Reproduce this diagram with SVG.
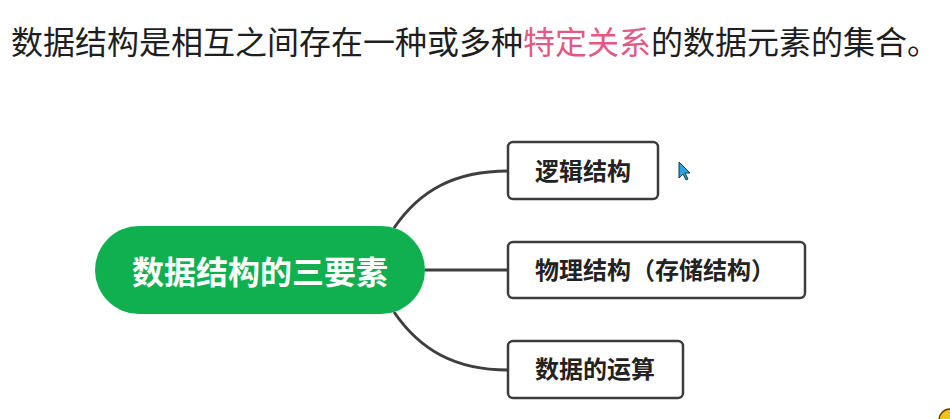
<svg xmlns="http://www.w3.org/2000/svg" width="950" height="419" viewBox="0 0 950 419">
<style>
.title{font-family:"Noto Sans CJK SC","Noto Sans",sans-serif;font-size:32px;fill:#1e1e1e}
.pink{fill:#e05a84}
.box{fill:#fff;stroke:#3c3c3c;stroke-width:2.5}
.lbl{font-family:"Noto Sans CJK SC","Noto Sans",sans-serif;font-size:24px;font-weight:bold;fill:#222}
.conn{fill:none;stroke:#3f3f3f;stroke-width:3}
</style>
<rect width="950" height="419" fill="#fff"/>
<text class="title" x="11" y="54">数据结构是相互之间存在一种或多种<tspan class="pink">特定关系</tspan>的数据元素的集合。</text>
<g id="connectors">
<path class="conn" d="M394,228 C420,190 455,171 508,171"/>
<path class="conn" d="M425,270 L508,270"/>
<path class="conn" d="M394,312 C420,350 455,370 508,370"/>
</g>
<g id="root">
<rect x="95" y="226" width="330" height="88" rx="44" fill="#10b050"/>
<text x="260" y="284" text-anchor="middle" style="font-family:'Noto Sans CJK SC','Noto Sans',sans-serif;font-size:32px;font-weight:bold;fill:#fff">数据结构的三要素</text>
</g>
<g id="logic">
<rect class="box" x="508" y="142" width="150" height="57" rx="5"/>
<text class="lbl" x="535" y="180">逻辑结构</text>
</g>
<g id="physical">
<rect class="box" x="508" y="242" width="297" height="56" rx="5"/>
<text class="lbl" x="535" y="279">物理结构（存储结构）</text>
</g>
<g id="ops">
<rect class="box" x="508" y="341" width="175" height="57" rx="5"/>
<text class="lbl" x="535" y="378">数据的运算</text>
</g>
<polygon points="679,162 679,178 683,174 686,180 688,179 685,173 690,173" fill="#2aa4e0" stroke="#1a3550" stroke-width="1"/>
<circle cx="950" cy="420" r="11" fill="#f2c21a" stroke="#5a4000" stroke-width="1.5"/>
</svg>
